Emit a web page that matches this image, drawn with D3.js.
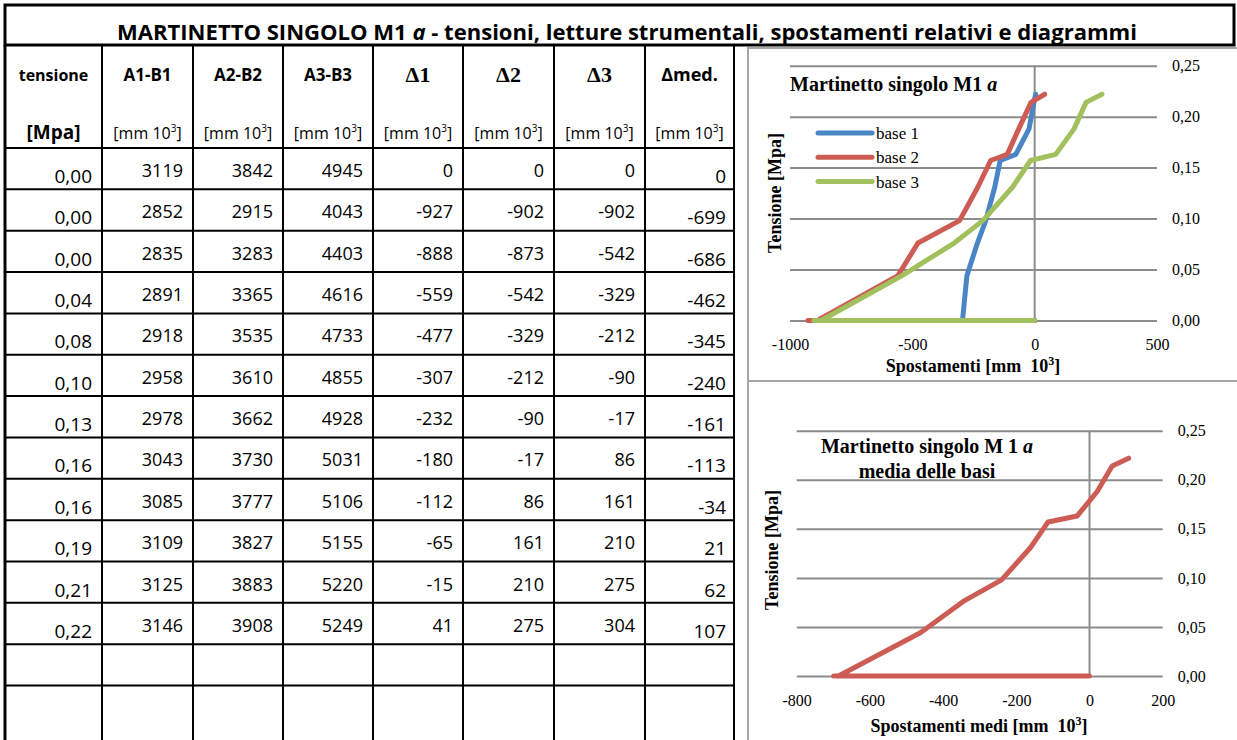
<!DOCTYPE html>
<html>
<head>
<meta charset="utf-8">
<script src="https://cdn.jsdelivr.net/npm/d3@7"></script>
<style>
  body { margin: 0; background: #fff; }
  svg { display: block; }
</style>
</head>
<body>
<div id="main"></div>
<script>
// table values, row by row
const tensione = [0, 0, 0, 0.044, 0.076, 0.098, 0.131, 0.157, 0.163, 0.188, 0.214, 0.222];
const letA1B1 = [3119, 2852, 2835, 2891, 2918, 2958, 2978, 3043, 3085, 3109, 3125, 3146];
const letA2B2 = [3842, 2915, 3283, 3365, 3535, 3610, 3662, 3730, 3777, 3827, 3883, 3908];
const letA3B3 = [4945, 4043, 4403, 4616, 4733, 4855, 4928, 5031, 5106, 5155, 5220, 5249];
const delta1 = [0, -927, -888, -559, -477, -307, -232, -180, -112, -65, -15, 41];
const delta2 = [0, -902, -873, -542, -329, -212, -90, -17, 86, 161, 210, 275];
const delta3 = [0, -902, -542, -329, -212, -90, -17, 86, 161, 210, 275, 304];
const deltaMed = [0, -699, -686, -462, -345, -240, -161, -113, -34, 21, 62, 107];
// blue curve
const base1 = [0, -298, -295, -277, -234, -200, -163, -141, -77, -23, -3, 4];

const headers = ["tensione", "A1-B1", "A2-B2", "A3-B3", "\u03941", "\u03942", "\u03943", "\u0394med."];
const units = ["[Mpa]", "[mm 10", "[mm 10", "[mm 10", "[mm 10", "[mm 10", "[mm 10", "[mm 10"];
const emptyRows = 2;

const yTicks = [0, 0.05, 0.10, 0.15, 0.20, 0.25];
const xTicks1 = [-1000, -500, 0, 500];
const xTicks2 = [-800, -600, -400, -200, 0, 200];

const series1 = [
    {name: "base 1", values: base1, color: "#4a86c5"},
    {name: "base 2", values: delta1, color: "#cd5c55"},
    {name: "base 3", values: delta2, color: "#a2c05d"},
];

const ctx = {
    w: 1237,
    h: 740,
    cols: [5, 102, 193, 283, 373, 463, 554, 645, 734],
    titleTop: 5,
    headTop: 45,
    bodyTop: 148,
    rowH: 41.35,
    SANS: "'Open Sans', 'Noto Sans', sans-serif",
    SERIF: "'Liberation Serif', 'DejaVu Serif', serif",
    GRID: "#8c8c8c",
};

const itLocale = d3.formatLocale({decimal: ",", thousands: ".", grouping: [3], currency: ["", "€"], minus: "-"});
const fmt2 = itLocale.format(".2f");
const fmtInt = itLocale.format("d");

const svg = d3.select("#main").append("svg")
    .attr("width", ctx.w)
    .attr("height", ctx.h);

function drawTable(){
    let g = svg.append("g").attr("id", "table");
    let cols = ctx.cols;
    let nRows = tensione.length + emptyRows;
    let bottom = ctx.h + 10;

    // title box
    g.append("rect")
        .attr("x", 5).attr("y", ctx.titleTop)
        .attr("width", 1229).attr("height", ctx.headTop - ctx.titleTop)
        .attr("fill", "none").attr("stroke", "#000").attr("stroke-width", 3);
    let title = g.append("text")
        .attr("x", 117).attr("y", 40)
        .attr("font-family", ctx.SANS).attr("font-weight", "bold")
        .attr("font-size", 21)
        .attr("textLength", 1020).attr("lengthAdjust", "spacingAndGlyphs");
    title.append("tspan").text("MARTINETTO SINGOLO M1 ");
    title.append("tspan").attr("font-style", "italic").text("a");
    title.append("tspan").text(" - tensioni, letture strumentali, spostamenti relativi e diagrammi");

    // grid of the table
    g.selectAll("line.v")
        .data(cols)
        .enter()
        .append("line")
        .attr("class", "v")
        .attr("x1", d => d).attr("x2", d => d)
        .attr("y1", ctx.headTop).attr("y2", bottom)
        .attr("stroke", "#000")
        .attr("stroke-width", (d, i) => (i === 0 ? 3 : 2));

    let rowLines = d3.range(nRows).map(i => ctx.bodyTop + i * ctx.rowH);
    g.selectAll("line.h")
        .data(rowLines)
        .enter()
        .append("line")
        .attr("class", "h")
        .attr("x1", cols[0]).attr("x2", cols[cols.length - 1])
        .attr("y1", d => d).attr("y2", d => d)
        .attr("stroke", "#000").attr("stroke-width", 2);

    // headers
    headers.forEach(function(h, i){
        let cx = (cols[i] + cols[i + 1]) / 2;
        let isDelta = i >= 4 && i <= 6;
        g.append("text")
            .attr("x", cx).attr("y", isDelta ? 82 : 81)
            .attr("text-anchor", "middle")
            .attr("font-family", isDelta ? ctx.SERIF : ctx.SANS)
            .attr("font-weight", "bold")
            .attr("font-size", isDelta ? 22 : (i === 7 ? 18 : (i === 0 ? 16 : 17)))
            .text(h);
        let u = g.append("text")
            .attr("x", cx).attr("y", 139)
            .attr("text-anchor", "middle")
            .attr("font-family", ctx.SANS)
            .attr("font-weight", i === 0 ? "bold" : "normal")
            .attr("font-size", i === 0 ? 19 : 16)
            .text(units[i]);
        if (i > 0){
            u.append("tspan").attr("font-size", 10).attr("dy", -7).text("3");
            u.append("tspan").attr("dy", 7).text("]");
        }
    });

    // body
    let columns = [tensione, letA1B1, letA2B2, letA3B3, delta1, delta2, delta3, deltaMed];
    columns.forEach(function(values, c){
        let low = (c === 0 || c === 7);
        g.selectAll("text.c" + c)
            .data(values)
            .enter()
            .append("text")
            .attr("class", "c" + c)
            .attr("x", cols[c + 1] - (c === 7 ? 8 : 10))
            .attr("y", (d, r) => ctx.bodyTop + r * ctx.rowH + (low ? 35 : 29))
            .attr("text-anchor", "end")
            .attr("font-family", ctx.SANS)
            .attr("font-size", low ? 19 : 18)
            .text(d => (c === 0 ? fmt2(d) : fmtInt(d)));
    });
}

function drawChart(opts){
    let g = svg.append("g").attr("id", opts.id);
    let x = d3.scaleLinear().domain(opts.xDomain).range(opts.xRange);
    let y = d3.scaleLinear().domain([0, 0.25]).range(opts.yRange);
    let plotW = opts.xRange[1] - opts.xRange[0];

    // horizontal grid + labels on the right
    let yAxis = g.append("g")
        .attr("transform", "translate(" + opts.xRange[1] + ",0)")
        .call(d3.axisRight(y).tickValues(yTicks).tickSize(-plotW).tickPadding(15).tickFormat(fmt2));
    yAxis.select(".domain").remove();
    yAxis.selectAll("line").attr("stroke", ctx.GRID).attr("stroke-width", 2);
    yAxis.selectAll("text")
        .attr("font-family", ctx.SERIF).attr("font-size", 16).attr("fill", "#000");

    // vertical axis at zero
    g.append("line")
        .attr("x1", x(0)).attr("x2", x(0))
        .attr("y1", y(0.25)).attr("y2", y(0))
        .attr("stroke", ctx.GRID).attr("stroke-width", 2);

    let xAxis = g.append("g")
        .attr("transform", "translate(0," + y(0) + ")")
        .call(d3.axisBottom(x).tickValues(opts.xTicks).tickSize(0).tickPadding(opts.xPad).tickFormat(fmtInt));
    xAxis.select(".domain").remove();
    xAxis.selectAll("text")
        .attr("font-family", ctx.SERIF).attr("font-size", 16).attr("fill", "#000");

    let line = d3.line()
        .x(d => x(d[0]))
        .y(d => y(d[1]));

    g.selectAll("path.serie")
        .data(opts.series)
        .enter()
        .append("path")
        .attr("class", "serie")
        .attr("d", s => line(s.values.map((v, i) => [v, tensione[i]])))
        .attr("fill", "none")
        .attr("stroke", s => s.color)
        .attr("stroke-width", 5)
        .attr("stroke-linejoin", "round")
        .attr("stroke-linecap", "round");

    // titles
    opts.title.forEach(function(t, i){
        let tt = g.append("text")
            .attr("x", opts.titlePos[0]).attr("y", opts.titlePos[1] + i * 25)
            .attr("text-anchor", opts.titleAnchor)
            .attr("font-family", ctx.SERIF).attr("font-weight", "bold")
            .attr("font-size", 20);
        tt.append("tspan").text(t[0]);
        if (t[1]) tt.append("tspan").attr("font-style", "italic").text(t[1]);
    });

    let xt = g.append("text")
        .attr("x", opts.xTitlePos[0]).attr("y", opts.xTitlePos[1])
        .attr("text-anchor", "middle")
        .attr("font-family", ctx.SERIF).attr("font-weight", "bold")
        .attr("font-size", 18)
        .attr("xml:space", "preserve")
        .text(opts.xTitle);
    xt.append("tspan").attr("font-size", 12).attr("dy", -7).text("3");
    xt.append("tspan").attr("dy", 7).text("]");

    g.append("text")
        .attr("transform", "translate(" + opts.yTitlePos[0] + "," + opts.yTitlePos[1] + ") rotate(-90)")
        .attr("text-anchor", "middle")
        .attr("font-family", ctx.SERIF).attr("font-weight", "bold")
        .attr("font-size", 18)
        .text("Tensione [Mpa]");

    if (opts.legend){
        let lg = g.selectAll("g.leg")
            .data(opts.series)
            .enter()
            .append("g")
            .attr("class", "leg")
            .attr("transform", (d, i) => "translate(818," + (133 + i * 24.3) + ")");
        lg.append("line")
            .attr("x1", 0).attr("x2", 54)
            .attr("stroke", d => d.color)
            .attr("stroke-width", 5)
            .attr("stroke-linecap", "round");
        lg.append("text")
            .attr("x", 58).attr("y", 6)
            .attr("font-family", ctx.SERIF).attr("font-size", 17)
            .text(d => d.name);
    }
}

function drawPanels(){
    let g = svg.append("g").attr("id", "panels");
    g.append("rect")
        .attr("x", 748).attr("y", 48)
        .attr("width", 500).attr("height", 710)
        .attr("fill", "none").attr("stroke", "#a6a6a6").attr("stroke-width", 2);
    g.append("line")
        .attr("x1", 748).attr("x2", ctx.w)
        .attr("y1", 381).attr("y2", 381)
        .attr("stroke", "#a6a6a6").attr("stroke-width", 2);
}

drawTable();
drawPanels();

drawChart({
    id: "chart1",
    xDomain: [-1000, 500], xRange: [790, 1157],
    yRange: [320.5, 65.7],
    xTicks: xTicks1, xPad: 18,
    series: series1,
    legend: true,
    title: [["Martinetto singolo M1 ", "a"]],
    titlePos: [790, 91], titleAnchor: "start",
    xTitle: "Spostamenti [mm  10",
    xTitlePos: [973, 372],
    yTitlePos: [781, 193],
});

drawChart({
    id: "chart2",
    xDomain: [-800, 200], xRange: [796.7, 1162.7],
    yRange: [676, 430.7],
    xTicks: xTicks2, xPad: 19,
    series: [{name: "media", values: deltaMed, color: "#cd5c55"}],
    legend: false,
    title: [["Martinetto singolo M 1 ", "a"], ["media delle basi"]],
    titlePos: [927, 453], titleAnchor: "middle",
    xTitle: "Spostamenti medi [mm  10",
    xTitlePos: [979, 732],
    yTitlePos: [778, 550],
});
</script>
</body>
</html>
